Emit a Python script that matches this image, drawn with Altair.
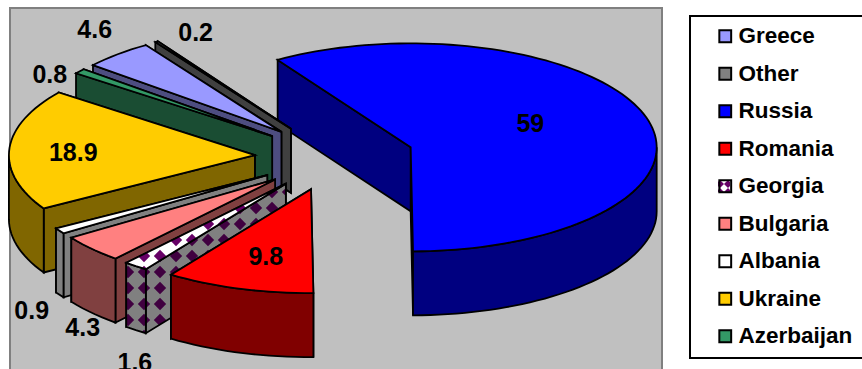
import math
import altair as alt

# Share of each country, in drawing order around the pie (clockwise)
countries = ["Greece", "Other", "Russia", "Romania", "Georgia", "Bulgaria", "Albania", "Ukraine", "Azerbaijan"]
shares = [4.6, 0.2, 59, 9.8, 1.6, 4.3, 0.9, 18.9, 0.8]
top_colors = ["#9999FF", "#808080", "#0000FF", "#FF0000", "#FFFFFF", "#FF8080", "#FFFFFF", "#FFCC00", "#339966"]
side_colors = ["#4D4D80", "#404040", "#000080", "#800000", "#808080", "#804040", "#808080", "#806600", "#1A4D33"]
# The Georgia key is see-through: its checked swatch lies under the legend
key_colors = ["#9999FF", "#808080", "#0000FF", "#FF0000", "transparent", "#FF8080", "#FFFFFF", "#FFCC00", "#339966"]

# Pie geometry
CX, CY = 334.4, 157
RX, RY = 246, 104
DEPTH = 64
EXPLODE = 0.3236
FIRST_ANGLE = -50.0
PATTERN_DARK_TOP = "#660066"
PATTERN_DARK_SIDE = "#400040"
OUTLINE = "#000000"
EDGE = 1.8

# Label nudge from the middle of each slice's outer rim, in pixels
label_nudge = {
    "Greece": (-23, -24), "Other": (39, -9), "Russia": (-116, 6), "Romania": (27, -32),
    "Georgia": (-1, 97), "Bulgaria": (-9, 79), "Albania": (-28, 80), "Ukraine": (64, 4),
    "Azerbaijan": (-30, 4),
}


def feature(ring, fill, stroke="transparent", width=0.0):
    ring = [list(p) for p in ring]
    if ring[0] != ring[-1]:
        ring.append(ring[0])
    return {
        "type": "Feature",
        "geometry": {"type": "Polygon", "coordinates": [ring]},
        "fill": fill, "stroke": stroke, "sw": width,
    }


def clip_convex(poly, clipper):
    """Sutherland-Hodgman clip of poly against a convex clipper ring."""
    area = sum(clipper[i][0] * clipper[(i + 1) % len(clipper)][1] - clipper[(i + 1) % len(clipper)][0] * clipper[i][1]
               for i in range(len(clipper)))
    sign = 1 if area > 0 else -1
    out = list(poly)
    for i in range(len(clipper)):
        a, b = clipper[i], clipper[(i + 1) % len(clipper)]
        side = lambda p: sign * ((b[0] - a[0]) * (p[1] - a[1]) - (b[1] - a[1]) * (p[0] - a[0]))
        src, out = out, []
        for j in range(len(src)):
            p, q = src[j], src[(j + 1) % len(src)]
            sp, sq = side(p), side(q)
            if sp >= 0:
                out.append(p)
            if sp * sq < 0:
                t = sp / (sp - sq)
                out.append((p[0] + t * (q[0] - p[0]), p[1] + t * (q[1] - p[1])))
        if not out:
            return []
    return out


def diamonds(ring, dark, step=16.0, half=6.2):
    xs = [p[0] for p in ring]
    ys = [p[1] for p in ring]
    feats = []
    for j in range(int(min(ys) // step) - 1, int(max(ys) // step) + 2):
        for i in range(int(min(xs) // step) - 1, int(max(xs) // step) + 2):
            x, y = i * step, j * step
            d = [(x - half, y), (x, y - half), (x + half, y), (x, y + half)]
            clipped = clip_convex(d, ring)
            if len(clipped) >= 3:
                feats.append(feature(clipped, dark))
    return feats


def point_on(ax, ay, deg):
    r = math.radians(deg)
    return ax + RX * math.sin(r), ay - RY * math.cos(r)


def arc(ax, ay, a0, a1, step=2.0):
    n = max(2, int(abs(a1 - a0) / step) + 1)
    return [point_on(ax, ay, a0 + (a1 - a0) * k / (n - 1)) for k in range(n)]


total = sum(shares)
slices = {}
cum = 0.0
for name, share, top, side in zip(countries, shares, top_colors, side_colors):
    a0 = FIRST_ANGLE + 360 * cum / total
    a1 = a0 + 360 * share / total
    mid = math.radians((a0 + a1) / 2)
    ax = CX + EXPLODE * RX * math.sin(mid)
    ay = CY - EXPLODE * RY * math.cos(mid)
    slices[name] = dict(share=share, a0=a0, a1=a1, ax=ax, ay=ay, top=top, side=side)
    cum += share

# Background and legend frame
features = [
    feature([(10, 8), (662, 8), (662, 372), (10, 372)], "#C0C0C0", "#808080", 2),
    feature([(690, 16), (870, 16), (870, 358), (690, 358)], "#FFFFFF", "#000000", 2),
]

# Checked swatch showing through the Georgia legend key
swatch = [(718, 180), (730, 180), (730, 192), (718, 192)]
features.extend(diamonds(swatch, PATTERN_DARK_TOP, step=8.0, half=4.0))

# Back-to-front painting order of the exploded slices
paint_order = ["Russia", "Other", "Greece", "Azerbaijan", "Ukraine", "Albania", "Bulgaria", "Georgia", "Romania"]

for name in paint_order:
    s = slices[name]
    ax, ay = s["ax"], s["ay"]
    faces = []
    for a in (s["a1"], s["a0"]):
        p = point_on(ax, ay, a)
        faces.append(([(ax, ay), p, (p[0], p[1] + DEPTH), (ax, ay + DEPTH)], s["side"]))
    lo, hi = max(s["a0"], 90), min(s["a1"], 270)
    if hi > lo:
        rim = arc(ax, ay, lo, hi)
        faces.append((rim + [(x, y + DEPTH) for x, y in reversed(rim)], s["side"]))
    top_ring = [(ax, ay)] + arc(ax, ay, s["a0"], s["a1"])
    faces.append((top_ring, s["top"]))

    for idx, (ring, fill) in enumerate(faces):
        if name == "Georgia":
            is_top = idx == len(faces) - 1
            features.append(feature(ring, fill))
            features.extend(diamonds(ring, PATTERN_DARK_TOP if is_top else PATTERN_DARK_SIDE))
            features.append(feature(ring, "transparent", OUTLINE, EDGE))
        else:
            features.append(feature(ring, fill, OUTLINE, EDGE))

# Data labels
labels = []
for name in countries:
    s = slices[name]
    px, py = point_on(s["ax"], s["ay"], (s["a0"] + s["a1"]) / 2)
    nx, ny = label_nudge[name]
    labels.append({"lon": px + nx, "lat": py + ny, "text": f"{s['share']:g}"})

FONT = "Liberation Sans"
project_args = dict(type="identity", scale=1, translate=[0, 0], reflectY=False)

shapes = (
    alt.Chart(alt.Data(values=features))
    .mark_geoshape()
    .encode(
        fill=alt.Fill("fill:N", scale=None),
        stroke=alt.Stroke("stroke:N", scale=None),
        strokeWidth=alt.StrokeWidth("sw:Q", scale=None),
    )
    .project(**project_args)
)

texts = (
    alt.Chart(alt.Data(values=labels))
    .mark_text(font=FONT, fontWeight="bold", fontSize=25, color="black", align="center", baseline="middle")
    .encode(longitude="lon:Q", latitude="lat:Q", text="text:N")
    .project(**project_args)
)

legend_rows = [{"country": c} for c in countries]
legend_layer = (
    alt.Chart(alt.Data(values=legend_rows))
    .mark_square(size=0, opacity=1)
    .encode(
        color=alt.Color(
            "country:N",
            scale=alt.Scale(domain=countries, range=key_colors),
            sort=None,
            legend=alt.Legend(
                title=None, orient="none", legendX=714, legendY=25,
                symbolType="square", symbolSize=140, symbolStrokeColor="black", symbolStrokeWidth=2,
                symbolOpacity=1, labelFont=FONT, labelFontWeight="bold", labelFontSize=22.5,
                labelColor="black", labelOffset=2, rowPadding=14.5, padding=0, labelLimit=200,
                values=countries,
            ),
        )
    )
)

chart = (
    alt.layer(shapes, texts, legend_layer)
    .properties(width=862, height=369, padding=0, autosize=alt.AutoSizeParams(type="none"), background="white")
    .configure_view(stroke=None)
)

chart.save("out.html", embed_options={"renderer": "svg", "actions": False})
